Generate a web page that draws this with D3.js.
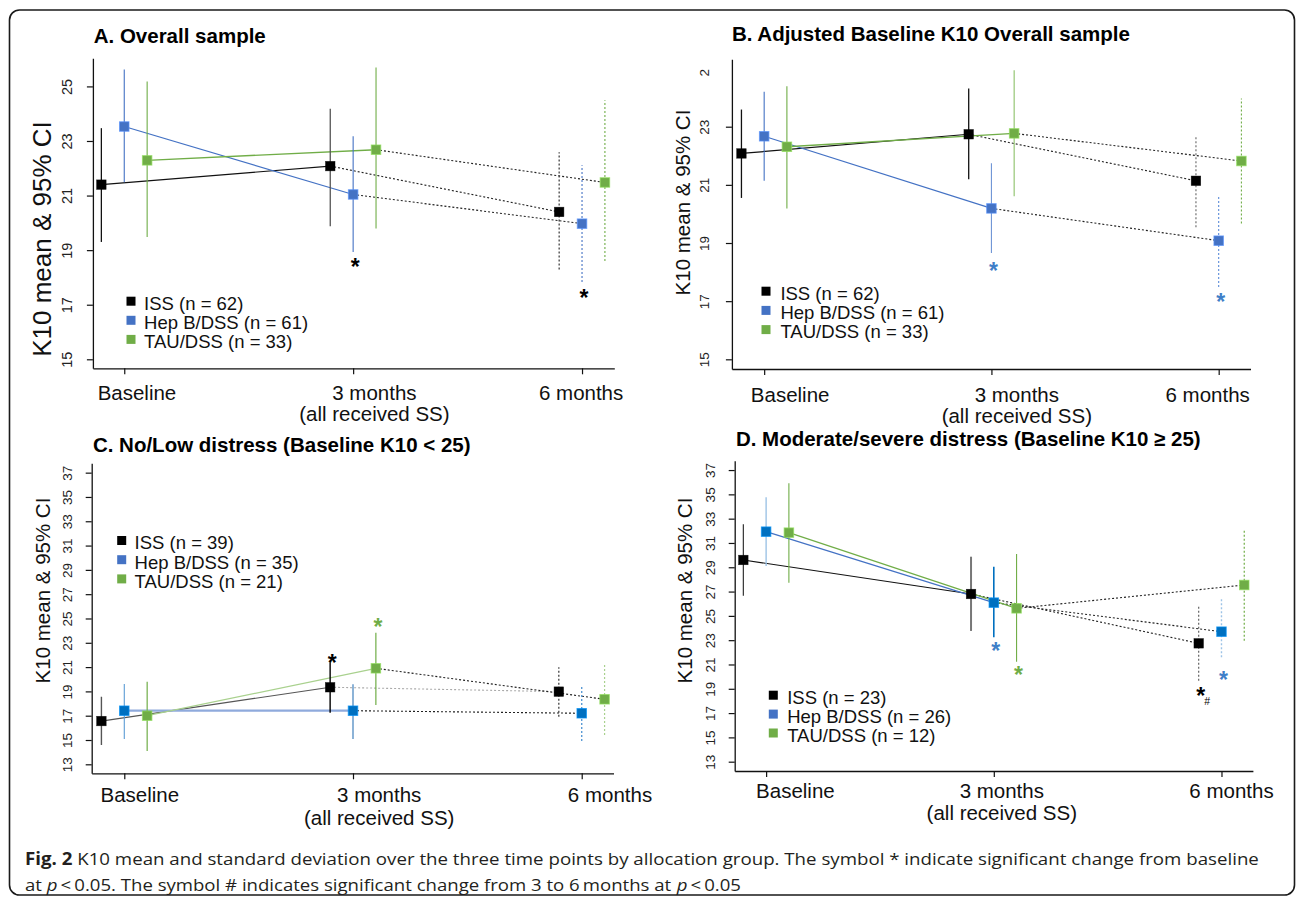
<!DOCTYPE html>
<html><head><meta charset="utf-8">
<script src="https://cdn.jsdelivr.net/npm/d3@7"></script>
<style>body{margin:0;background:#fff} svg{display:block} .cap{white-space:pre}</style>
</head><body>
<script>
// ---------------- DATA ----------------
const timeLabels = ["Baseline", "3 months", "6 months"];
const timeSubLabels = ["", "(all received SS)", ""];
const seriesNames = ["ISS", "Hep B/DSS", "TAU/DSS"];
const panelTitles = ["A. Overall sample", "B. Adjusted Baseline K10 Overall sample",
  "C. No/Low distress (Baseline K10 < 25)", "D. Moderate/severe distress (Baseline K10 \u2265 25)"];
const yAxisTitle = "K10 mean & 95% CI";

const nA = [62, 61, 33], nB = [62, 61, 33], nC = [39, 35, 21], nD = [23, 26, 12];

// rows: ISS, Hep B/DSS, TAU/DSS ; columns: Baseline, 3 months, 6 months
const meanA = [[21.40, 22.08, 20.40], [23.53, 21.04, 19.97], [22.29, 22.68, 21.48]];
const loA   = [[19.30, 19.88, 18.29], [21.49, 18.93, 17.83], [19.48, 19.79, 18.60]];
const hiA   = [[23.47, 24.18, 22.59], [25.62, 23.17, 22.11], [25.18, 25.69, 24.49]];

const meanB = [[22.08, 22.74, 21.14], [22.67, 20.19, 19.08], [22.31, 22.77, 21.82]];
const loB   = [[20.55, 21.19, 19.54], [21.14, 18.66, 17.49], [20.19, 20.61, 19.67]];
const hiB   = [[23.59, 24.31, 22.71], [24.20, 21.74, 20.65], [24.39, 24.94, 23.97]];

const meanC = [[16.56, 19.34, 18.98], [17.41, 17.41, 17.20], [17.00, 20.90, 18.35]];
const loC   = [[14.59, 17.25, 16.92], [15.08, 15.08, 14.92], [14.09, 17.88, 15.41]];
const hiC   = [[18.56, 21.40, 20.98], [19.61, 19.58, 19.53], [19.80, 23.83, 21.23]];

const meanD = [[29.60, 26.80, 22.74], [31.93, 26.09, 23.70], [31.85, 25.62, 27.54]];
const loD   = [[26.66, 23.76, 19.67], [29.11, 23.24, 21.59], [27.73, 21.23, 22.96]];
const hiD   = [[32.54, 29.87, 25.81], [34.76, 29.05, 26.53], [35.91, 30.09, 32.07]];

const yTicksAB = [15, 17, 19, 21, 23, 25];
const yTickLabelsA = ["15", "17", "19", "21", "23", "25"];
const yTickLabelsB = ["15", "17", "19", "21", "23", "2"];
const yTicksCD = [13, 15, 17, 19, 21, 23, 25, 27, 29, 31, 33, 35, 37];
const yTickLabelsCD = ["13", "15", "17", "19", "21", "23", "25", "27", "29", "31", "33", "35", "37"];

// significance marks: series index, time index, value (glyph centre), symbol
const marksA = [{s: 1, t: 1, v: 18.56, sym: "*"}, {s: 1, t: 2, v: 17.42, sym: "*"}];
const marksB = [{s: 1, t: 1, v: 18.21, sym: "*"}, {s: 1, t: 2, v: 17.13, sym: "*"}];
const marksC = [{s: 0, t: 1, v: 21.72, sym: "*"}, {s: 2, t: 1, v: 24.69, sym: "*"}];
const marksD = [{s: 1, t: 1, v: 22.52, sym: "*"}, {s: 2, t: 1, v: 20.55, sym: "*"},
                {s: 0, t: 2, v: 18.80, sym: "*"}, {s: 0, t: 2, v: 17.94, sym: "#"},
                {s: 1, t: 2, v: 20.14, sym: "*"}];

const captionLine1 = [["Fig. 2", "bold"], [" K10 mean and standard deviation over the three time points by allocation group. The symbol * indicate significant change from baseline", "normal"]];
const captionLine2 = [["at ", "normal"], ["p", "italic"], ["\u2009<\u20090.05. The symbol # indicates significant change from 3 to 6\u2009months at ", "normal"], ["p", "italic"], ["\u2009<\u20090.05", "normal"]];

// ---------------- STYLE / LAYOUT ----------------
const FONT = "'Liberation Sans', Arial, Helvetica, sans-serif";
const groupOffsets = [-0.1, 0, 0.1];
const BLK = "#111", BLU = "#4472c4", GRN = "#70ad47", BLU2 = "#0070c0";
const legendColors = ["#000", BLU, GRN];

const panels = [
  { title: panelTitles[0], mean: meanA, lo: loA, hi: hiA, n: nA, yTicks: yTicksAB, yTickLabels: yTickLabelsA, marks: marksA,
    L: { left: 92.9, right: 614.3, top: 58.3, bottom: 368.3, xDom: [-0.137, 2.141], yDom: [14.67, 26.03],
         titleX: 93.7, titleY: 43.3, ylabX: 42, ylabY: 239, ylabFs: 26, ytickDist: 26.2, ytickFs: 14.5,
         xlabOff: [12.7, 21.3, -0.9], xlabY: [400, 421], legSqX: 131, legTxtX: 144.1, legY0: 310, legDy: 19.1 },
    S: { line: [BLK, BLU, GRN], lineW: [1.2, 1.2, 1.4], dot: ["#222", "#222", "#222"],
         bar: [[BLK, "#555", "#222"], [BLU, BLU, BLU], [GRN, GRN, GRN]], barW: [[1.3, 1.3, 1.1], [1.1, 1.1, 1.1], [1.1, 1.1, 1.1]],
         marker: ["#000", BLU, GRN], markColor: ["#000", "#000", "#000"] } },
  { title: panelTitles[1], mean: meanB, lo: loB, hi: hiB, n: nB, yTicks: yTicksAB, yTickLabels: yTickLabelsB, marks: marksB, clipTop: true,
    L: { left: 731.9, right: 1250.5, top: 59.3, bottom: 369, xDom: [-0.142, 2.14], yDom: [14.667, 25.318],
         titleX: 731.9, titleY: 40.7, ylabX: 682.2, ylabY: 202.5, ylabFs: 20.5, ytickDist: 27.5, ytickFs: 13.5,
         xlabOff: [26, 25.4, -11], xlabY: [401.5, 422.5], legSqX: 766, legTxtX: 780.4, legY0: 300, legDy: 19.2 },
    S: { line: [BLK, BLU, GRN], lineW: [1.2, 1.2, 1.4], dot: ["#222", "#222", "#222"],
         bar: [[BLK, BLK, "#666"], [BLU, "#6f95d6", "#5b8bd8"], [GRN, "#8cc168", GRN]], barW: [[1.3, 1.3, 1.1], [1.1, 1.1, 1.1], [1.1, 1.1, 1.1]],
         marker: ["#000", BLU, GRN], markColor: ["#3f7fc8", "#3f7fc8", "#3f7fc8"] } },
  { title: panelTitles[2], mean: meanC, lo: loC, hi: hiC, n: nC, yTicks: yTicksCD, yTickLabels: yTickLabelsCD, marks: marksC,
    L: { left: 91.7, right: 613.5, top: 463.3, bottom: 773.3, xDom: [-0.1425, 2.139], yDom: [12.26, 37.77],
         titleX: 92.9, titleY: 452, ylabX: 42.5, ylabY: 590.5, ylabFs: 20.5, ytickDist: 24.2, ytickFs: 13.5,
         xlabOff: [15.5, 26.2, 28.3], xlabY: [802, 824.5], legSqX: 121.7, legTxtX: 134.6, legY0: 549.3, legDy: 19.2 },
    S: { line: ["#555", "#8faadc", "#a9d18e"], lineW: [1.2, 2.2, 1.2], dot: ["#aaa", "#222", "#222"],
         bar: [["#555", "#000", "#222"], ["#5b9bd5", "#2e75b6", "#5b9bd5"], [GRN, GRN, "#a9d18e"]], barW: [[1.4, 1.4, 1.1], [1.1, 1.1, 1.4], [1.2, 1.2, 1.2]],
         marker: ["#000", BLU2, GRN], markColor: ["#000", "#000", GRN] } },
  { title: panelTitles[3], mean: meanD, lo: loD, hi: hiD, n: nD, yTicks: yTicksCD, yTickLabels: yTickLabelsCD, marks: marksD,
    L: { left: 734.7, right: 1252.9, top: 460.7, bottom: 771, xDom: [-0.138, 2.138], yDom: [12.234, 37.77],
         titleX: 735.9, titleY: 446, ylabX: 685, ylabY: 590.5, ylabFs: 20.5, ytickDist: 24.7, ytickFs: 13.5,
         xlabOff: [29.3, 8, 10], xlabY: [798, 819.5], legSqX: 773.3, legTxtX: 787.2, legY0: 704, legDy: 18.9 },
    S: { line: [BLK, BLU, GRN], lineW: [1.2, 1.2, 1.2], dot: ["#222", "#222", "#222"],
         bar: [["#333", "#777", "#555"], ["#9dc3e6", BLU2, "#9dc3e6"], [GRN, GRN, GRN]], barW: [[1.2, 2, 1.1], [1.4, 1.6, 1.4], [1.1, 1.1, 1.2]],
         marker: ["#000", BLU2, GRN], markColor: ["#000", "#3f7fc8", GRN] } }
];

// ---------------- DRAW ----------------
const svg = d3.select("body").append("svg").attr("width", 1296).attr("height", 904)
  .style("font-family", FONT);

svg.append("rect").attr("x", 9.5).attr("y", 10).attr("width", 1285).attr("height", 885)
  .attr("rx", 10).attr("fill", "none").attr("stroke", "#1a1a1a").attr("stroke-width", 1.6);

function drawPanel(p) {
  const L = p.L, S = p.S;
  const g = svg.append("g");
  const x = d3.scaleLinear().domain(L.xDom).range([L.left, L.right]);
  const y = d3.scaleLinear().domain(L.yDom).range([L.bottom, L.top]);

  // title
  g.append("text").attr("x", L.titleX).attr("y", L.titleY).text(p.title)
    .attr("font-size", 20.5).attr("font-weight", "bold").attr("fill", "#000");

  // y axis
  const ya = g.append("g").attr("transform", `translate(${L.left},0)`)
    .call(d3.axisLeft(y).tickValues(p.yTicks).tickSizeInner(6).tickSizeOuter(0)
      .tickFormat((d, i) => p.yTickLabels[i]));
  ya.select(".domain").attr("stroke", "#111").attr("stroke-width", 1.3);
  ya.selectAll(".tick line").attr("stroke", "#111").attr("stroke-width", 1.2);
  ya.selectAll(".tick text")
    .attr("x", 0).attr("y", 0).attr("dy", 0)
    .attr("text-anchor", "middle")
    .attr("transform", `translate(${-L.ytickDist + 0.358 * L.ytickFs},0) rotate(-90)`)
    .attr("font-size", L.ytickFs).attr("font-family", FONT).attr("fill", "#222");
  if (p.clipTop) {
    const last = ya.selectAll(".tick").filter((d, i) => i === p.yTicks.length - 1);
    last.select("line").remove();
    last.select("text").attr("text-anchor", "end");
  }

  // x axis
  const xa = g.append("g").attr("transform", `translate(0,${L.bottom})`)
    .call(d3.axisBottom(x).tickValues([0, 1, 2]).tickSizeInner(6).tickSizeOuter(0).tickFormat(""));
  xa.select(".domain").attr("stroke", "#111").attr("stroke-width", 1.3);
  xa.selectAll(".tick line").attr("stroke", "#111").attr("stroke-width", 1.2);

  timeLabels.forEach((lab, i) => {
    g.append("text").attr("x", x(i) + L.xlabOff[i]).attr("y", L.xlabY[0]).attr("text-anchor", "middle")
      .attr("font-size", 20.5).attr("fill", "#111").text(lab);
    if (timeSubLabels[i]) {
      g.append("text").attr("x", x(i) + L.xlabOff[i]).attr("y", L.xlabY[1]).attr("text-anchor", "middle")
        .attr("font-size", 20.5).attr("fill", "#111").text(timeSubLabels[i]);
    }
  });

  // y axis title
  g.append("text").attr("text-anchor", "middle")
    .attr("transform", `translate(${L.ylabX + 0.358 * L.ylabFs},${L.ylabY}) rotate(-90)`)
    .attr("font-size", L.ylabFs).attr("fill", "#111").text(yAxisTitle);

  const line = d3.line().x(d => x(d[0])).y(d => y(d[1]));

  // connecting lines
  p.mean.forEach((m, s) => {
    const o = groupOffsets[s];
    g.append("path").attr("d", line([[0 + o, m[0]], [1 + o, m[1]]]))
      .attr("fill", "none").attr("stroke", S.line[s]).attr("stroke-width", S.lineW[s]);
    g.append("path").attr("d", line([[1 + o, m[1]], [2 + o, m[2]]]))
      .attr("fill", "none").attr("stroke", S.dot[s]).attr("stroke-width", 1.1).attr("stroke-dasharray", "2,2");
  });

  // error bars
  p.mean.forEach((m, s) => {
    const o = groupOffsets[s];
    m.forEach((v, t) => {
      g.append("path").attr("d", line([[t + o, p.lo[s][t]], [t + o, p.hi[s][t]]]))
        .attr("fill", "none").attr("stroke", S.bar[s][t]).attr("stroke-width", S.barW[s][t])
        .attr("stroke-dasharray", t === 2 ? "2,2" : null);
    });
  });

  // markers
  const sq = 9.5;
  p.mean.forEach((m, s) => {
    const o = groupOffsets[s];
    m.forEach((v, t) => {
      const c = S.marker[s];
      g.append("rect").attr("x", x(t + o) - sq / 2).attr("y", y(v) - sq / 2)
        .attr("width", sq).attr("height", sq).attr("fill", c)
        .attr("stroke", d3.color(c).brighter(s === 0 ? 3 : 0.7).formatHex()).attr("stroke-width", s === 0 ? 0.6 : 1)
        .attr("stroke-opacity", 0.7);
    });
  });

  // significance marks
  p.marks.forEach(mk => {
    const star = mk.sym === "*";
    const fs = star ? 23 : 10.5;
    // a '#' sits just to the lower right of its '*'
    const cx = x(mk.t + groupOffsets[mk.s]) + (star ? 2 : 8.5);
    g.append("text").attr("x", cx).attr("y", y(mk.v) + (star ? 0.555 : 0.36) * fs).attr("text-anchor", "middle")
      .attr("font-size", fs).attr("font-weight", star ? "bold" : "normal")
      .attr("fill", S.markColor[mk.s]).text(mk.sym);
  });

  // legend
  seriesNames.forEach((nm, s) => {
    const by = L.legY0 + s * L.legDy;
    g.append("rect").attr("x", L.legSqX - 4.5).attr("y", by - 8.8 - 4.5).attr("width", 9).attr("height", 9)
      .attr("fill", legendColors[s]);
    g.append("text").attr("x", L.legTxtX).attr("y", by).attr("font-size", 18.5).attr("fill", "#111")
      .text(`${nm} (n = ${p.n[s]})`);
  });
}

panels.forEach(drawPanel);

// caption: segments laid out one after another, then the line is scaled to the reference width
const cap = svg.append("g").attr("font-family", "'Open Sans', 'Noto Sans', sans-serif").attr("fill", "#231f20");
function captionLine(segs, x0, y0, targetW) {
  const lg = cap.append("g");
  let cx = 0;
  segs.forEach(([txt, sty]) => {
    const t = lg.append("text").attr("class", "cap").attr("x", cx).attr("y", 0).attr("font-size", 17)
      .attr("font-weight", sty === "bold" ? "bold" : "normal")
      .attr("font-style", sty === "italic" ? "italic" : "normal")
      .text(txt);
    cx += t.node().getComputedTextLength();
  });
  lg.attr("transform", `translate(${x0},${y0}) scale(${targetW / cx},1)`);
}
captionLine(captionLine1, 25, 865, 1234);
captionLine(captionLine2, 25, 891, 716);
</script>
</body></html>
